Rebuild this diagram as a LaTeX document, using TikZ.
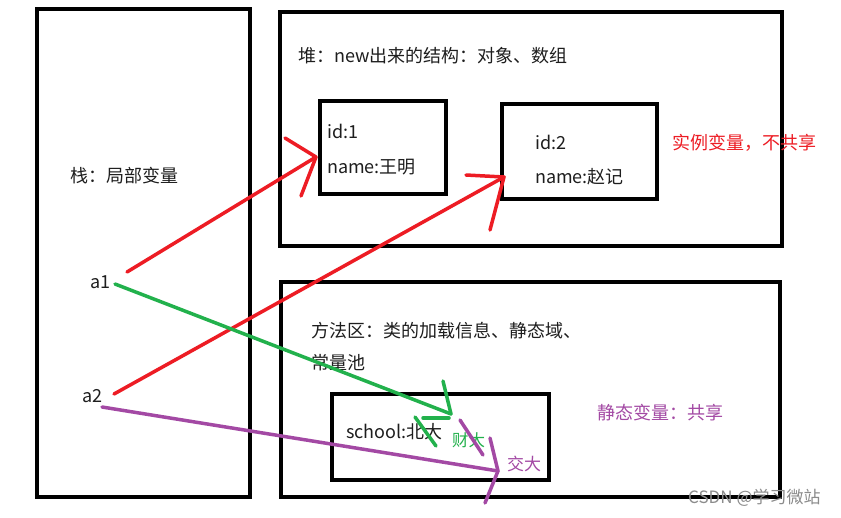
\documentclass[tikz,border=0pt]{standalone}
\usepackage{fontspec}
\setmainfont{Noto Sans CJK SC}
\definecolor{pred}{HTML}{ED1C24}
\definecolor{pgreen}{HTML}{22B14C}
\definecolor{ppurple}{HTML}{A349A4}
\definecolor{ink}{HTML}{1E1E1E}
\begin{document}
\begin{tikzpicture}[x=1pt,y=-1pt,
  box/.style={draw=black, line width=4pt, inner sep=0pt},
  txt/.style={anchor=west, inner sep=0pt, font=\fontsize{18}{20}\selectfont, text=ink},
  stroke/.style={line width=3.5pt, line cap=round, line join=round}]
\useasboundingbox[fill=white] (0,0) rectangle (841,517);
% boxes
\node[box, minimum width=213pt, minimum height=488pt] (stack) at (143.5,253) {};
\node[box, minimum width=502pt, minimum height=234pt] (heap) at (531,129) {};
\node[box, minimum width=499pt, minimum height=215pt] (method) at (530.5,389.5) {};
\node[box, minimum width=126pt, minimum height=93pt] (obj1) at (383,147.5) {};
\node[box, minimum width=155pt, minimum height=95pt] (obj2) at (579.5,151.5) {};
\node[box, minimum width=217pt, minimum height=86pt] (school) at (440.5,437) {};
% texts
\node[txt] (stacklbl) at (70,176) {栈：局部变量};
\node[txt] (a1) at (90,282) {a1};
\node[txt] (a2) at (82,396) {a2};
\node[txt] (heaplbl) at (298,56) {堆：new出来的结构：对象、数组};
\node[txt] (id1) at (327,131) {id:1};
\node[txt] (nm1) at (327,167) {name:王明};
\node[txt] (id2) at (535,142) {id:2};
\node[txt] (nm2) at (535,177) {name:赵记};
\node[txt, text=pred] (inst) at (672,143) {实例变量，不共享};
\node[txt] (meth1) at (311,331) {方法区：类的加载信息、静态域、};
\node[txt] (meth2) at (311,363) {常量池};
\node[txt] (sch) at (346,432) {school:北大};
\node[txt, text=pgreen, font=\fontsize{16.5}{18}\selectfont] (cai) at (452,440) {财大};
\node[txt, text=ppurple, font=\fontsize{17}{19}\selectfont] (jiao) at (507,464) {交大};
\node[txt, text=ppurple] (stat) at (597,413) {静态变量：共享};
\node[txt, text=black!45, font=\fontsize{17}{19}\selectfont] (wm) at (688,498) {CSDN @学习微站};
% arrow coordinates
\coordinate (r1s) at (127,272);
\coordinate (r1t) at (316,157);
\coordinate (r1a) at (285,138);
\coordinate (r1b) at (301,196);
\coordinate (r2s) at (114,394);
\coordinate (r2t) at (504,177);
\coordinate (r2a) at (466,175);
\coordinate (r2b) at (490,230);
\coordinate (gs) at (115,284);
\coordinate (gt) at (451,414);
\coordinate (ga) at (443,381);
\coordinate (gb1) at (423,418);
\coordinate (gb2) at (449,418);
\coordinate (gc1) at (415,417);
\coordinate (gc2) at (436,446);
\coordinate (ps) at (102,407);
\coordinate (pt) at (498,471);
\coordinate (pa) at (490,438);
\coordinate (pb) at (485,503);
\coordinate (pc1) at (460,420);
\coordinate (pc2) at (483,455);
% red arrows
\draw[stroke, pred] (r1s) -- (r1t);
\draw[stroke, pred] (r1a) -- (r1t) -- (r1b);
\draw[stroke, pred] (r2s) -- (r2t);
\draw[stroke, pred] (r2a) -- (r2t) -- (r2b);
% green arrow
\draw[stroke, pgreen] (gs) -- (gt);
\draw[stroke, pgreen] (ga) -- (gt);
\draw[stroke, pgreen] (gb1) -- (gb2);
\draw[stroke, pgreen] (gc1) -- (gc2);
% purple arrow
\draw[stroke, ppurple] (ps) -- (pt);
\draw[stroke, ppurple] (pa) -- (pt) -- (pb);
\draw[stroke, ppurple] (pc1) -- (pc2);
\end{tikzpicture}
\end{document}
